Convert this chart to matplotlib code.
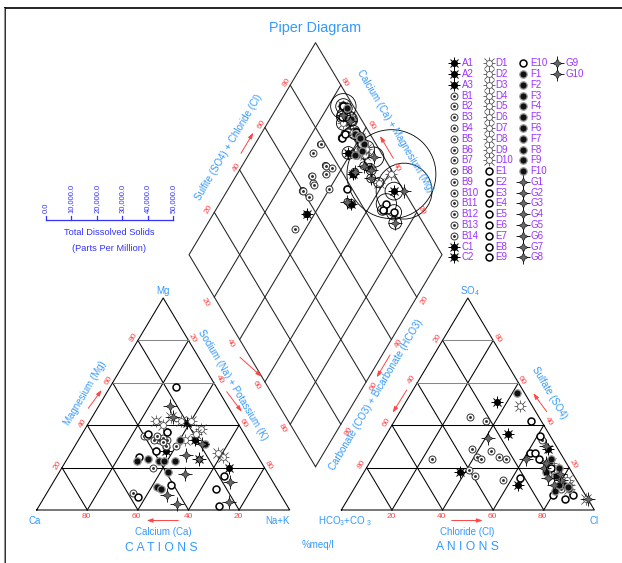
import numpy as np
import matplotlib.pyplot as plt

plt.rcParams['font.family'] = ['Liberation Sans', 'DejaVu Sans']
plt.rcParams['mathtext.default'] = 'regular'

# ---- sample data (% of meq/l) ----
names = ['A1', 'A2', 'A3'] + ['B%d' % i for i in range(1, 15)] + ['C1', 'C2'] + \
        ['D%d' % i for i in range(1, 11)] + ['E%d' % i for i in range(1, 11)] + \
        ['F%d' % i for i in range(1, 11)] + ['G%d' % i for i in range(1, 11)]

# cations
ca = [20, 21, 35,
      40, 39, 35, 32, 33, 37, 39, 34, 44, 35, 34, 30, 30, 58,
      24, 14,
      32, 25, 22, 18, 16, 25, 19, 14, 15, 30,
      16, 30, 39, 18, 24, 41, 57, 27, 38, 47,
      49, 44, 40, 38, 34, 39, 47, 46, 27, 18,
      23, 24, 19, 28, 33, 17, 45, 43, 22, 24]
mg = [41, 33, 28,
      35, 35, 33, 33, 34, 33, 28, 30, 20, 35, 32, 30, 37, 8,
      24, 20,
      42, 44, 42, 42, 38, 33, 36, 25, 27, 40,
      58, 37, 28, 16, 10, 12, 6, 2, 36, 25,
      23, 24, 23, 23, 23, 18, 11, 10, 33, 31,
      49, 44, 31, 26, 17, 13, 7, 3, 4, 24]
na_k = [39, 46, 37,
        25, 26, 32, 35, 33, 30, 33, 36, 36, 30, 34, 40, 33, 34,
        52, 66,
        26, 31, 36, 40, 46, 42, 45, 61, 58, 30,
        26, 33, 33, 66, 66, 47, 37, 71, 26, 28,
        28, 32, 37, 39, 43, 43, 42, 44, 40, 51,
        28, 32, 50, 46, 50, 70, 48, 54, 74, 52]
# anions
hco3 = [13, 16, 44,
        27, 22, 34, 27, 34, 33, 25, 23, 52, 40, 39, 29, 4, 8,
        24, 4,
        4, 4, 6, 5, 7, 6, 5, 1, 8, 8,
        4, 12, 10, 10, 13, 22, 5, 9, 4, 7,
        3, 4, 6, 5, 10, 5, 11, 7, 5, 8,
        6, 5, 25, 15, 4, 0, 10, 10, 11, 8]
so4 = [51, 36, 18,
       44, 42, 29, 28, 25, 24, 25, 24, 24, 19, 16, 14, 33, 10,
       12, 29,
       12, 14, 20, 10, 18, 22, 49, 5, 16, 22,
       42, 27, 27, 24, 7, 15, 7, 5, 35, 20,
       55, 20, 12, 10, 18, 11, 9, 16, 24, 12,
       14, 17, 34, 24, 30, 5, 20, 12, 15, 22]
cl = [36, 48, 38,
      29, 36, 37, 45, 41, 43, 50, 53, 24, 41, 45, 57, 63, 82,
      64, 67,
      84, 82, 74, 85, 75, 72, 46, 94, 76, 70,
      54, 61, 63, 66, 80, 63, 88, 86, 61, 73,
      42, 76, 82, 85, 72, 84, 80, 77, 71, 80,
      80, 78, 41, 61, 66, 95, 70, 78, 74, 70]
# total dissolved solids (ppm)
tds = [5000, 3000, 2500,
       2000, 2500, 1800, 2200, 2000, 2400, 2600, 2000, 1500, 2800, 2000, 2300, 4000, 3000,
       3500, 7000,
       6000, 4500, 5000, 4000, 3500, 3000, 6500, 35000, 4000, 5500,
       10000, 3000, 2800, 8000, 4000, 2500, 3000, 6000, 3500, 4500,
       4000, 5000, 4500, 3500, 3000, 4000, 2500, 3000, 4500, 3500,
       5000, 4000, 2500, 3000, 8000, 22000, 3000, 3500, 5000, 4000]
tds_ticks = [0, 10000, 20000, 30000, 40000, 50000]
tick_pct = [20, 40, 60, 80]

# ---- geometry ----
h = np.sqrt(3) / 2
g = 0.2042
U0, V0, SX, SY = 36.7, 510.0, 253.0, 244.8   # pixel mapping of unit ternary space


def P(px, py):
    return (px - U0) / SX, (V0 - py) / SY


def cat_xy(n, m):
    return n / 100 + m / 200, m / 100 * h


def an_xy(c, s):
    return 1 + g + c / 100 + s / 200, s / 100 * h


def dia_xy(s, t):
    return 1 + g / 2 + 0.5 * (t - s), g * h + h * (s + t)


fig = plt.figure(figsize=(6.22, 5.63), dpi=100)
ax = fig.add_axes([0, 0, 1, 1])
ax.set_xlim(P(0, 0)[0], P(622, 0)[0])
ax.set_ylim(P(0, 563)[1], P(0, 0)[1])
ax.axis('off')

lw = 0.75
# triangles
for x0 in [0, 1 + g]:
    ax.plot([x0, x0 + 1, x0 + 0.5, x0], [0, 0, h, 0], color='k', lw=lw)
    for k in [0.2, 0.4, 0.6, 0.8]:
        col = '#888888' if k > 0.5 else 'k'
        ax.plot([x0 + k / 2, x0 + 1 - k / 2], [k * h, k * h], color=col, lw=lw)
        ax.plot([x0 + k, x0 + k + (1 - k) / 2], [0, (1 - k) * h], color='k', lw=lw)
        ax.plot([x0 + 1 - k, x0 + (1 - k) / 2], [0, (1 - k) * h], color='k', lw=lw)

# diamond
corners = [dia_xy(0, 0), dia_xy(1, 0), dia_xy(1, 1), dia_xy(0, 1), dia_xy(0, 0)]
ax.plot([c[0] for c in corners], [c[1] for c in corners], color='#222222', lw=lw)
for k in [0.2, 0.4, 0.6, 0.8]:
    a, b = dia_xy(k, 0), dia_xy(k, 1)
    ax.plot([a[0], b[0]], [a[1], b[1]], color='#222222', lw=lw)
    a, b = dia_xy(0, k), dia_xy(1, k)
    ax.plot([a[0], b[0]], [a[1], b[1]], color='#222222', lw=lw)


def draw_pts(x, y, kind, z=4):
    kw = dict(ls='none', zorder=z)
    if kind in 'AC':
        ax.plot(x, y, marker='+', ms=8, mew=0.7, color='k', **kw)
        ax.plot(x, y, marker='x', ms=5.5, mew=0.7, color='k', **kw)
        ax.plot(x, y, marker='o', ms=4, mfc='k', mec='k', **kw)
    elif kind == 'B':
        ax.plot(x, y, marker='o', ms=5, mfc='white', mec='#333333', mew=0.7, **kw)
        ax.plot(x, y, marker='.', ms=2.2, color='#333333', **kw)
    elif kind == 'D':
        ax.plot(x, y, marker='+', ms=8.5, mew=0.5, color='#333333', **kw)
        ax.plot(x, y, marker='x', ms=6.5, mew=0.5, color='#333333', **kw)
        ax.plot(x, y, marker='o', ms=4.3, mfc='white', mec='#555555', mew=0.6, **kw)
    elif kind == 'E':
        ax.plot(x, y, marker='o', ms=5, mfc='white', mec='k', mew=1.1, **kw)
    elif kind == 'F':
        ax.plot(x, y, marker='o', ms=5.3, mfc='#111111', mec='#999999', mew=0.9, **kw)
    elif kind == 'G':
        ax.plot(x, y, marker='+', ms=9.5, mew=0.6, color='k', **kw)
        ax.plot(x, y, marker=(4, 1, 0), ms=6.5, mfc='#666666', mec='k', mew=0.4, **kw)


px_per_ppm = 127.0 / 50000
for i, nm in enumerate(names):
    kind = nm[0]
    cx, cy = cat_xy(na_k[i], mg[i])
    axx, axy = an_xy(cl[i], so4[i])
    dx, dy = dia_xy(1 - na_k[i] / 100, (so4[i] + cl[i]) / 100)
    draw_pts([cx], [cy], kind)
    draw_pts([axx], [axy], kind)
    draw_pts([dx], [dy], kind)
    d_pt = tds[i] * px_per_ppm * 0.72
    ax.scatter([dx], [dy], s=d_pt ** 2, facecolors='none', edgecolors='k', linewidths=0.6, zorder=3)

# legend
rows0, drow = 63.3, 10.78
cols = [(454, 461.7, names[0:19]), (489.3, 495.7, names[19:38]),
        (522.7, 530, names[38:57]), (556.7, 565, names[57:59])]
for mx, tx, col in cols:
    for r, nm in enumerate(col):
        yy = rows0 + r * drow
        mxx, myy = P(mx, yy)
        draw_pts([mxx], [myy], nm[0])
        ax.text(*P(tx, yy), nm, color='#9933FF', fontsize=7, ha='left', va='center')

# TDS scale
blue2 = '#3333FF'
y_bar = 220
x_ticks = [46 + t * px_per_ppm for t in tds_ticks]
ax.plot([P(x_ticks[0], y_bar)[0], P(x_ticks[-1], y_bar)[0]], [P(0, y_bar)[1]] * 2, color=blue2, lw=0.9)
for t, xt in zip(tds_ticks, x_ticks):
    ax.plot([P(xt, 0)[0]] * 2, [P(0, y_bar)[1], P(0, y_bar - 4)[1]], color=blue2, lw=0.9)
    ax.text(*P(xt, 213), '{:,.1f}'.format(t), rotation=90, color=blue2, fontsize=5.5,
            ha='center', va='bottom')
ax.text(*P(109, 233), 'Total Dissolved Solids', color=blue2, fontsize=6.7, ha='center', va='center')
ax.text(*P(109, 248.5), '(Parts Per Million)', color=blue2, fontsize=6.7, ha='center', va='center')

# labels
blue = '#3399FF'
red = '#FF4444'
ang = 59.3


def lab(px, py, s, size=7, rot=0, color=blue, **kw):
    ax.text(*P(px, py), s, color=color, fontsize=size, rotation=rot,
            rotation_mode='anchor', ha='center', va='center', **kw)


lab(315, 28, 'Piper Diagram', size=10.4)
lab(162.7, 291, 'Mg')
lab(35, 521, 'Ca')
lab(277, 521, 'Na+K')
lab(163, 532, 'Calcium (Ca)')
lab(161, 548, 'C A T I O N S', size=8.7)
lab(85, 393, 'Magnesium (Mg)', rot=ang)
lab(233, 385, 'Sodium (Na) + Potassium (K)', rot=-ang)
lab(470, 291, 'SO$_4$')
lab(345, 521, 'HCO$_3$+CO $_3$')
lab(594, 521, 'Cl')
lab(467, 532, 'Chloride (Cl)')
lab(467, 547, 'A N I O N S', size=8.7)
lab(376, 395, 'Carbonate (CO3) + Bicarbonate (HCO3)', rot=ang)
lab(549, 393, 'Sulfate (SO4)', rot=-ang)
lab(318, 545, '%meq/l')
lab(229, 147, 'Sulfite (SO4) + Chloride (Cl)', rot=ang)
lab(395, 131, 'Calcium (Ca) + Magnesium (Mg)', rot=-ang)

# tick labels (pixel anchors, values from tick_pct)
tick_sets = [
    ([(86, 517), (136.5, 517), (188, 517), (238, 517)], tick_pct[::-1], 0),
    ([(58, 465), (83.3, 423), (108.3, 380), (134, 337.5)], tick_pct, ang),
    ([(192.7, 338), (219, 379.5), (243, 423.5), (268, 465)], tick_pct, -ang),
    ([(391, 517), (441.7, 517), (492.3, 517), (542.7, 517)], tick_pct, 0),
    ([(437.7, 338), (412, 379.5), (387, 422), (362, 464)], tick_pct, ang),
    ([(497.7, 338), (521.7, 380), (548.3, 421.7), (573.3, 464.3)], tick_pct[::-1], -ang),
    ([(209, 209), (237, 167), (261.5, 124), (287, 82)], tick_pct, ang),
    ([(421, 210), (396, 167), (371, 125), (344, 82)], tick_pct, -ang),
    ([(205.7, 302), (230.7, 343.3), (256, 385), (282.3, 428.3)], tick_pct, -ang),
    ([(425, 300), (399, 343), (374, 386), (349, 431)], tick_pct, ang),
]
for pts, vals, rot in tick_sets:
    for (px, py), v in zip(pts, vals):
        lab(px, py, str(v), size=6, rot=rot, color=red)

# red arrows
arrows = [((88.3, 408.3), (101.7, 390)), ((226.7, 391.7), (241.7, 411.7)),
          ((178.3, 520.5), (146.7, 520.5)), ((240, 357.3), (261.7, 376.7)),
          ((390, 355), (376.7, 377.3)), ((406.7, 390), (392.7, 412.7)),
          ((546.7, 411.7), (533.3, 393.3)), ((451.7, 520.5), (482.7, 520.5)),
          ((241, 153.3), (253.3, 132.7)), ((393.3, 158.3), (380, 136))]
for a, b in arrows:
    ax.annotate('', xy=P(*b), xytext=P(*a),
                arrowprops=dict(arrowstyle='-|>,head_length=0.35,head_width=0.12',
                                color=red, lw=0.7, shrinkA=0, shrinkB=0))

# window frame
ax.plot([P(5, 8)[0], P(622, 8)[0]], [P(5, 8)[1]] * 2, color='k', lw=1.2, clip_on=False)
ax.plot([P(5, 8)[0]] * 2, [P(5, 8)[1], P(5, 563)[1]], color='k', lw=1.2, clip_on=False)
ax.plot([P(3.8, 8)[0]] * 2, [P(5, 8)[1], P(5, 563)[1]], color='#999999', lw=0.8, clip_on=False)

fig.savefig('out.png', dpi=100)
